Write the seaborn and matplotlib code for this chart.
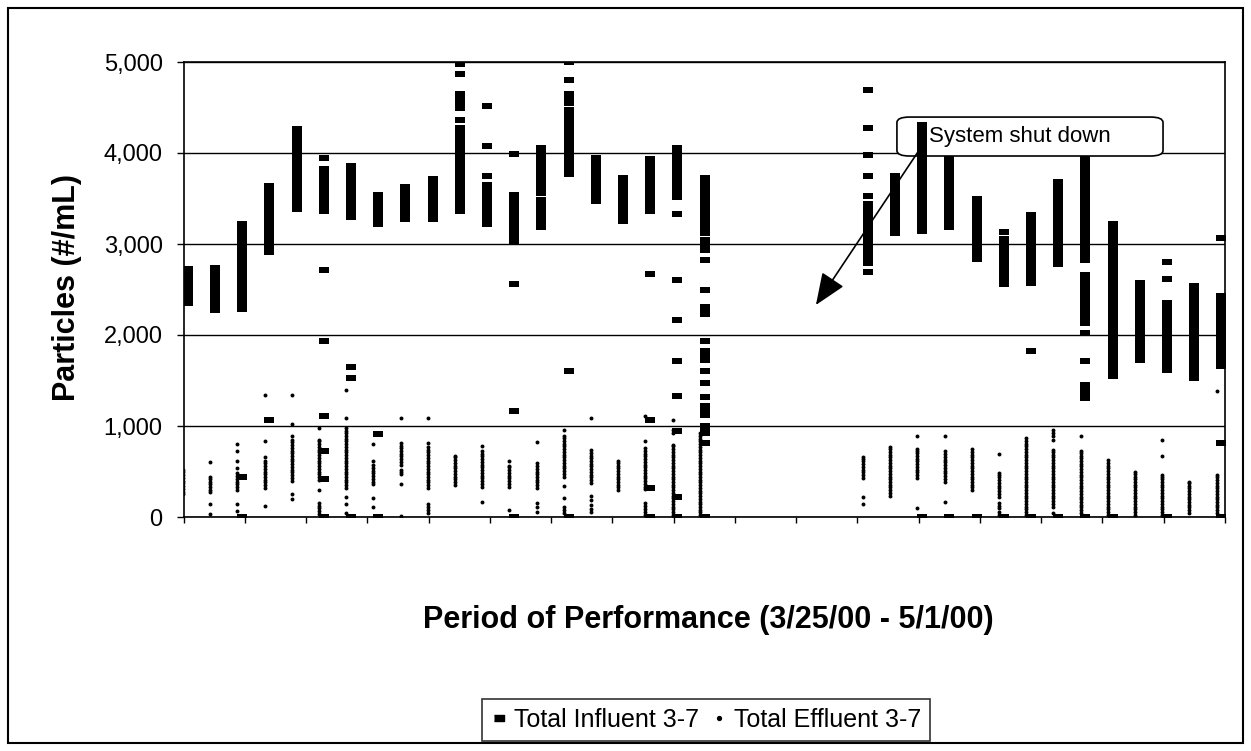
import numpy as np
import pandas as pd
import seaborn as sns
import matplotlib.pyplot as plt
from matplotlib.lines import Line2D
from matplotlib.patches import FancyBboxPatch, Rectangle
from matplotlib.ticker import FuncFormatter

# day index counted from 3/25/00 (no samples during the shut down)
days = [0, 1, 2, 3, 4, 5, 6, 7, 8, 9, 10, 11, 12, 13, 14, 15, 16, 17, 18, 19,
        25, 26, 27, 28, 29, 30, 31, 32, 33, 34, 35, 36, 37, 38]

# Total Influent 3-7 (#/mL), one list per day
influent = [
    [2350, 2400, 2450, 2500, 2550, 2600, 2650, 2700, 2720],
    [2270, 2320, 2370, 2420, 2470, 2520, 2570, 2620, 2670, 2720, 2740],
    [0, 435, 2290, 2340, 2390, 2440, 2460, 2500, 2550, 2600, 2650, 2700, 2750, 2800, 2850,
     2900, 2950, 3000, 3050, 3100, 3150, 3200, 3225],
    [1070, 2910, 2960, 3010, 3060, 3110, 3160, 3210, 3260, 3310, 3360, 3410, 3460, 3510,
     3560, 3610, 3640],
    [3390, 3440, 3490, 3540, 3590, 3640, 3690, 3740, 3790, 3840, 3890, 3940, 3990, 4040,
     4090, 4140, 4190, 4240, 4260],
    [0, 415, 720, 1110, 1930, 2715, 3365, 3415, 3465, 3515, 3565, 3615, 3665, 3715, 3765,
     3820, 3950],
    [0, 1530, 1645, 3300, 3350, 3400, 3450, 3500, 3550, 3600, 3650, 3700, 3750, 3800, 3860],
    [0, 915, 3215, 3265, 3315, 3365, 3415, 3465, 3515, 3540],
    [3280, 3330, 3380, 3430, 3480, 3530, 3580, 3625],
    [3280, 3330, 3380, 3430, 3480, 3530, 3580, 3630, 3680, 3710],
    [3365, 3415, 3465, 3515, 3565, 3615, 3665, 3715, 3765, 3815, 3865, 3915, 3965, 4015,
     4065, 4085, 4120, 4170, 4220, 4270, 4360, 4490, 4550, 4600, 4650, 4870, 4980],
    [3215, 3265, 3315, 3365, 3415, 3465, 3515, 3565, 3615, 3650, 3750, 4075, 4515],
    [0, 1160, 2560, 3035, 3085, 3135, 3185, 3235, 3285, 3335, 3385, 3435, 3485, 3540, 3990],
    [3190, 3240, 3290, 3340, 3390, 3440, 3480, 3560, 3610, 3660, 3710, 3760, 3810, 3860,
     3910, 3960, 4010, 4060],
    [0, 1600, 3765, 3815, 3865, 3915, 3965, 4015, 4065, 4115, 4165, 4215, 4265, 4315, 4365,
     4415, 4470, 4545, 4600, 4650, 4800, 5000],
    [3475, 3525, 3575, 3625, 3675, 3725, 3775, 3825, 3875, 3925, 3950],
    [3255, 3305, 3355, 3405, 3455, 3505, 3555, 3605, 3655, 3705, 3730],
    [0, 315, 1070, 2670, 3365, 3415, 3465, 3515, 3565, 3615, 3665, 3715, 3765, 3815, 3865,
     3930],
    [0, 220, 940, 1325, 1710, 2165, 2605, 3330, 3520, 3570, 3620, 3670, 3720, 3770, 3820,
     3870, 3920, 3970, 4020, 4060],
    [0, 810, 920, 945, 995, 1125, 1165, 1215, 1315, 1470, 1600, 1725, 1770, 1820, 1930,
     2230, 2260, 2310, 2495, 2825, 2935, 3000, 3045, 3125, 3175, 3225, 3275, 3325, 3375,
     3425, 3475, 3525, 3575, 3625, 3675, 3730],
    [2695, 2790, 2840, 2890, 2940, 2990, 3040, 3090, 3140, 3190, 3240, 3290, 3340, 3390,
     3445, 3525, 3750, 3975, 4270, 4690],
    [3125, 3175, 3225, 3275, 3325, 3375, 3425, 3475, 3525, 3575, 3625, 3675, 3725, 3750],
    [0, 3145, 3195, 3245, 3295, 3345, 3395, 3445, 3495, 3545, 3595, 3645, 3695, 3745, 3795,
     3845, 3895, 3945, 3995, 4045, 4095, 4145, 4195, 4245, 4305],
    [0, 3190, 3240, 3290, 3340, 3390, 3440, 3490, 3540, 3590, 3640, 3690, 3740, 3790, 3840,
     3890, 3950],
    [0, 2835, 2885, 2935, 2985, 3035, 3085, 3135, 3185, 3235, 3285, 3335, 3385, 3435, 3490],
    [0, 2555, 2605, 2655, 2705, 2755, 2805, 2855, 2905, 2955, 3005, 3050, 3135],
    [0, 1820, 2575, 2625, 2675, 2725, 2775, 2825, 2875, 2925, 2975, 3025, 3075, 3125, 3175,
     3225, 3275, 3315],
    [0, 2775, 2825, 2875, 2925, 2975, 3025, 3075, 3125, 3175, 3225, 3275, 3325, 3375, 3425,
     3475, 3525, 3575, 3625, 3685],
    [0, 1305, 1350, 1400, 1450, 1710, 2020, 2130, 2180, 2230, 2280, 2330, 2380, 2430, 2480,
     2530, 2580, 2630, 2660, 2825, 2875, 2925, 2975, 3025, 3075, 3125, 3175, 3225, 3275,
     3325, 3375, 3425, 3475, 3525, 3575, 3625, 3675, 3725, 3775, 3825, 3875, 3940],
    [0, 1550, 1600, 1650, 1700, 1750, 1800, 1850, 1900, 1950, 2000, 2050, 2100, 2150, 2200,
     2250, 2300, 2350, 2400, 2450, 2500, 2550, 2600, 2650, 2700, 2750, 2800, 2850, 2900,
     2950, 3000, 3050, 3100, 3150, 3200, 3225],
    [1725, 1775, 1825, 1875, 1925, 1975, 2025, 2075, 2125, 2175, 2225, 2275, 2325, 2375,
     2425, 2475, 2525, 2570],
    [0, 1615, 1665, 1715, 1765, 1815, 1865, 1915, 1965, 2015, 2065, 2115, 2165, 2215, 2265,
     2315, 2350, 2610, 2805],
    [1525, 1575, 1625, 1675, 1725, 1775, 1825, 1875, 1925, 1975, 2025, 2075, 2125, 2175,
     2225, 2275, 2325, 2375, 2425, 2475, 2540],
    [0, 810, 1655, 1705, 1755, 1805, 1855, 1905, 1955, 2005, 2055, 2105, 2155, 2205, 2255,
     2305, 2355, 2405, 2430, 3070],
]

# Total Effluent 3-7 (#/mL), one list per day
effluent = [
    [250, 280, 310, 340, 370, 400, 430, 460, 490, 520],
    [35, 145, 270, 300, 330, 360, 390, 420, 440, 600],
    [70, 145, 300, 330, 360, 390, 420, 450, 480, 540, 620, 730, 800],
    [120, 320, 350, 380, 410, 440, 470, 500, 530, 560, 590, 620, 660, 840, 1340],
    [200, 255, 400, 430, 460, 490, 520, 550, 580, 610, 640, 670, 700, 730, 760, 790, 820,
     850, 890, 1025, 1340],
    [35, 65, 95, 125, 155, 295, 410, 440, 470, 500, 530, 560, 590, 620, 650, 680, 710, 740,
     770, 800, 830, 850, 975],
    [45, 145, 220, 320, 350, 380, 410, 440, 470, 500, 530, 560, 590, 620, 650, 680, 710, 740,
     770, 800, 830, 860, 890, 920, 950, 975, 1085, 1395],
    [110, 210, 360, 390, 420, 450, 480, 510, 540, 570, 610, 800],
    [15, 360, 475, 500, 520, 575, 605, 635, 665, 695, 725, 755, 785, 810, 1085],
    [45, 75, 115, 145, 320, 350, 380, 410, 440, 470, 500, 530, 560, 590, 620, 650, 680, 710,
     740, 770, 810, 1085],
    [355, 385, 415, 445, 475, 505, 535, 565, 595, 625, 655, 675],
    [160, 335, 365, 395, 425, 455, 485, 515, 545, 575, 605, 635, 665, 695, 720, 785],
    [75, 335, 365, 395, 425, 455, 485, 515, 545, 565, 620],
    [60, 110, 155, 320, 350, 380, 410, 440, 470, 500, 530, 560, 595, 820],
    [45, 80, 115, 210, 345, 445, 475, 505, 535, 565, 595, 625, 655, 685, 715, 745, 775, 805,
     835, 865, 885, 960],
    [50, 85, 135, 185, 235, 375, 405, 435, 465, 495, 525, 555, 585, 615, 645, 675, 705, 740,
     1085],
    [295, 325, 355, 385, 415, 445, 475, 505, 535, 565, 595, 620],
    [25, 55, 90, 125, 155, 305, 335, 365, 395, 425, 455, 485, 515, 545, 575, 605, 635, 665,
     695, 725, 755, 830, 1110],
    [25, 55, 85, 115, 145, 175, 205, 235, 265, 295, 325, 355, 385, 415, 445, 475, 505, 535,
     565, 595, 625, 655, 685, 715, 745, 775, 795, 920, 960, 1070],
    [20, 50, 80, 110, 140, 170, 200, 230, 260, 290, 320, 350, 380, 410, 440, 470, 500, 530,
     560, 590, 620, 650, 680, 710, 740, 770, 800, 830, 860, 890, 920],
    [145, 225, 430, 460, 490, 520, 550, 580, 610, 640, 655],
    [235, 265, 295, 325, 355, 385, 415, 445, 475, 505, 535, 565, 595, 625, 655, 685, 715,
     745, 770],
    [100, 430, 460, 490, 520, 550, 580, 610, 640, 670, 700, 730, 745, 885],
    [160, 390, 420, 450, 480, 510, 540, 570, 600, 630, 660, 690, 720, 885],
    [295, 325, 355, 385, 415, 445, 475, 505, 535, 565, 595, 625, 655, 685, 715, 745],
    [25, 60, 95, 125, 155, 225, 255, 285, 315, 345, 375, 405, 435, 465, 485, 695],
    [25, 55, 85, 115, 145, 175, 205, 235, 265, 295, 325, 355, 385, 415, 445, 475, 505, 535,
     565, 595, 625, 655, 685, 715, 745, 775, 805, 835, 865],
    [45, 115, 145, 175, 205, 235, 265, 295, 325, 355, 385, 415, 445, 475, 505, 535, 565, 595,
     625, 655, 685, 715, 740, 850, 885, 925, 960],
    [45, 75, 105, 135, 165, 195, 225, 255, 285, 315, 345, 375, 405, 435, 465, 495, 525, 555,
     585, 615, 645, 675, 705, 720, 885],
    [25, 55, 85, 115, 145, 175, 205, 235, 265, 295, 325, 355, 385, 415, 445, 475, 505, 535,
     565, 595, 630],
    [25, 55, 85, 115, 145, 175, 205, 235, 265, 295, 325, 355, 385, 415, 445, 475, 500],
    [25, 55, 85, 115, 145, 175, 205, 235, 265, 295, 325, 355, 385, 415, 445, 465, 665, 850],
    [45, 75, 105, 135, 165, 195, 225, 255, 285, 315, 345, 375, 390],
    [45, 75, 105, 135, 165, 195, 225, 255, 285, 315, 345, 375, 405, 435, 465, 1390],
]

INF = 'Total Influent 3-7'
EFF = 'Total Effluent 3-7'
SHUTDOWN_DAY = 27  # column that sits in front of the callout box

rows = []
for d, vals in zip(days, influent):
    rows += [(d, v, INF) for v in vals]
for d, vals in zip(days, effluent):
    rows += [(d - 0.18, v, EFF) for v in vals]
df = pd.DataFrame(rows, columns=['day', 'particles', 'series'])
df_in = df[df.series == INF]
df_eff = df[df.series == EFF]

sns.set_theme(style='white')
plt.rcParams['font.family'] = ['Liberation Sans', 'DejaVu Sans']
plt.rcParams['text.color'] = 'black'
plt.rcParams['axes.labelcolor'] = 'black'
plt.rcParams['xtick.color'] = 'black'
plt.rcParams['ytick.color'] = 'black'

W, H = 1251, 751
fig = plt.figure(figsize=(W / 100, H / 100), dpi=100)
ax = fig.add_axes([183.5 / W, 1 - 517 / H, (1225 - 183.5) / W, 455 / H])

dash = [(-1, -0.55), (1, -0.55), (1, 0.55), (-1, 0.55)]
sns.scatterplot(data=df_in, x='day', y='particles', marker=dash, s=52, color='black',
                linewidth=0, ax=ax, zorder=2, legend=False)
sns.scatterplot(data=df_eff, x='day', y='particles', marker='o', s=8, color='black',
                linewidth=0, ax=ax, zorder=2, legend=False)

xmin, xmax = -0.16, 38.13
ax.set_xlim(xmin, xmax)
ax.set_ylim(0, 5000)
ax.set_xticks(np.linspace(xmin, xmax, 18))
ax.set_xticklabels([])
ax.set_yticks([0, 1000, 2000, 3000, 4000, 5000])
ax.yaxis.set_major_formatter(FuncFormatter(lambda v, p: f'{v:,.0f}'))
ax.tick_params(axis='y', direction='out', length=5, width=1, color='black',
               labelsize=17, labelcolor='black', pad=10, left=True)
ax.tick_params(axis='x', direction='out', length=4, width=1, color='black', bottom=True)
ax.grid(axis='y', color='black', linewidth=1.0)
ax.grid(axis='x', visible=False)
ax.set_axisbelow(True)
for sp in ax.spines.values():
    sp.set_color('black')
    sp.set_linewidth(1.2)

# callout box (white, hides what is behind it)
box = FancyBboxPatch((0.685, 0.7934), 0.2555, 0.0856,
                     boxstyle='round,pad=0,rounding_size=0.012',
                     transform=ax.transAxes, facecolor='white', edgecolor='black',
                     linewidth=1.2, zorder=3)
ax.add_patch(box)
ax.text(0.716, 0.836, 'System shut down', transform=ax.transAxes, fontsize=16,
        ha='left', va='center', zorder=4)
sns.scatterplot(data=df_in[df_in.day == SHUTDOWN_DAY], x='day', y='particles', marker=dash,
                s=52, color='black', linewidth=0, ax=ax, zorder=5, legend=False)
ax.set_xlabel('')
ax.set_ylabel('')
ax.annotate('', xy=(23.09, 2330), xytext=(26.84, 4011),
            arrowprops=dict(arrowstyle='-|>,head_length=1.1,head_width=0.45',
                            color='black', lw=1.2, mutation_scale=18, shrinkA=0, shrinkB=0),
            zorder=6)

fig.text(67 / W, 1 - 287 / H, 'Particles (#/mL)', rotation=90, ha='center', va='center',
         fontsize=22, fontweight='bold')
fig.text(708 / W, 1 - 620 / H, 'Period of Performance (3/25/00 - 5/1/00)', ha='center',
         va='center', fontsize=22, fontweight='bold')

handles = [Line2D([], [], marker=dash, ms=7, color='black', linestyle='none'),
           Line2D([], [], marker='o', ms=2.8, color='black', linestyle='none')]
leg = fig.legend(handles, [INF, EFF], loc='center', bbox_to_anchor=(706 / W, 1 - 720 / H),
                 ncol=2, fontsize=18, frameon=True, fancybox=False, handlelength=0.6,
                 handletextpad=0.3, columnspacing=0.5, borderpad=0.35)
leg.get_frame().set_edgecolor('black')
leg.get_frame().set_linewidth(1.2)

fig.patches.append(Rectangle((8 / W, 8 / H), 1 - 16 / W, 1 - 16 / H, transform=fig.transFigure,
                             fill=False, edgecolor='black', linewidth=1.5))

fig.savefig('out.png', dpi=100)
